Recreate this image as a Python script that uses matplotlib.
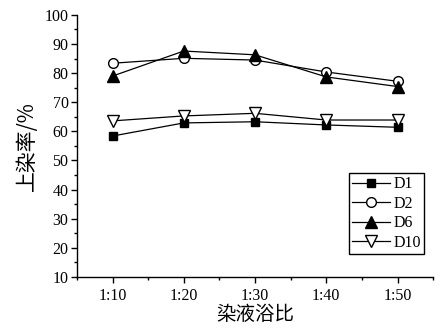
import matplotlib
matplotlib.use('Agg')
import matplotlib.pyplot as plt
import numpy as np

# data
ratios = ['1:10', '1:20', '1:30', '1:40', '1:50']
d1 = [58.4, 62.9, 63.3, 62.2, 61.4]
d2 = [83.4, 85.1, 84.5, 80.4, 77.2]
d6 = [79.0, 87.6, 86.3, 78.7, 75.4]
d10 = [63.6, 65.3, 66.2, 63.9, 63.9]

plt.rcParams['font.family'] = ['Liberation Serif', 'Noto Sans CJK SC']
plt.rcParams['xtick.direction'] = 'out'
plt.rcParams['ytick.direction'] = 'out'

fig = plt.figure(figsize=(4.47, 3.32), dpi=100)
ax = fig.add_axes([0.172, 0.166, 0.797, 0.789])

x = np.arange(1, len(ratios) + 1)
lw = 0.9
ax.plot(x, d1, color='black', lw=lw, marker='s', ms=6, mfc='black', mec='black', label='D1')
ax.plot(x, d2, color='black', lw=lw, marker='o', ms=7, mfc='white', mec='black', label='D2')
ax.plot(x, d6, color='black', lw=lw, marker='^', ms=8, mfc='black', mec='black', label='D6')
ax.plot(x, d10, color='black', lw=lw, marker='v', ms=8, mfc='white', mec='black', label='D10')

ax.set_xlim(0.5, 5.5)
ax.set_ylim(10, 100)
ax.set_xticks(x)
ax.set_xticklabels(ratios)
ax.set_xticks(np.arange(0.5, 5.6, 1.0), minor=True)
ax.set_yticks(np.arange(10, 101, 10))
ax.set_yticks(np.arange(15, 100, 10), minor=True)
ax.tick_params(labelsize=11.5, length=4, width=1, pad=2)
ax.tick_params(which='minor', length=2.5, width=1)
ax.tick_params(axis='x', pad=4)

for s in ['top', 'right']:
    ax.spines[s].set_visible(False)
for s in ['left', 'bottom']:
    ax.spines[s].set_linewidth(1)

ax.set_xlabel('染液浴比', fontsize=14, family=['Noto Sans CJK SC'], labelpad=0)
ax.set_ylabel('上染率/%', fontsize=15, family=['Noto Sans CJK SC'], labelpad=5)

leg = ax.legend(loc='lower right', bbox_to_anchor=(0.975, 0.088), fontsize=11.5,
                frameon=True, fancybox=False, edgecolor='black', framealpha=1,
                handlelength=2.4, borderpad=0.2, labelspacing=0.22, handletextpad=0.2,
                borderaxespad=0)
leg.get_frame().set_linewidth(1)

fig.savefig('out.png', dpi=100)
